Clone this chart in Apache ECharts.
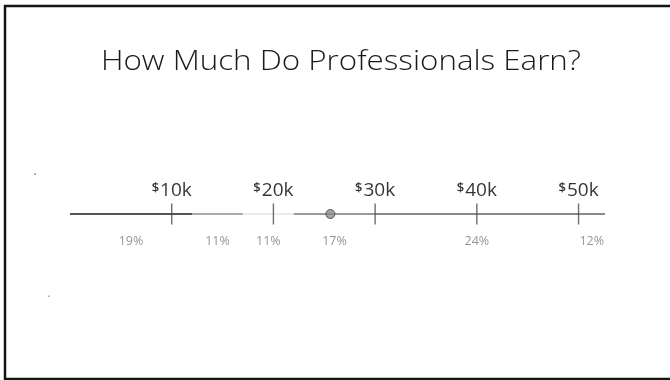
<!DOCTYPE html>
<html>
<head>
<meta charset="utf-8">
<script src="https://cdn.jsdelivr.net/npm/echarts@6/dist/echarts.min.js"></script>
<style>
  html, body { margin: 0; padding: 0; background: #fff; }
  #chart { width: 670px; height: 380px; }
</style>
</head>
<body>
<div id="chart"></div>
<script>
// Salary scale, in thousands of dollars
const tickValues = [10, 20, 30, 40, 50];
const tickLabels = ['10k', '20k', '30k', '40k', '50k'];

// Salary bands along the scale (start, end in $k) and share of professionals
const bandStarts = [0, 12, 17, 22, 30, 50];
const bandEnds = [12, 17, 22, 30, 50, 52.6];
const bandShares = ['19%', '11%', '11%', '17%', '24%', '12%'];
const bandColors = ['#555555', '#ababab', '#ececec', '#9a9a9a', '#8a8a8a', '#8a8a8a'];

// Highlighted salary point
const markerValue = [25.6];

const FONT = 'Open Sans';

const bandSeries = bandStarts.map((s, i) => ({
  type: 'line',
  data: [[s, 0], [bandEnds[i], 0]],
  symbol: 'none',
  silent: true,
  z: 2,
  lineStyle: { color: bandColors[i], width: 2 }
}));

const frameLine = (x1, y1, x2, y2) => ({
  type: 'line',
  shape: { x1, y1, x2, y2 },
  style: { stroke: '#141414', lineWidth: 2.5 },
  silent: true
});

const option = {
  animation: false,
  backgroundColor: '#fff',
  grid: { left: 70, width: 535, top: 164, height: 100 },
  xAxis: { type: 'value', min: 0, max: 52.6, show: false },
  yAxis: { type: 'value', min: -1, max: 1, show: false },
  graphic: [
    frameLine(4, 6, 670, 6),
    frameLine(5, 5, 5, 380),
    frameLine(4, 379, 670, 379),
    {
      // heading, widened slightly for a broad geometric look
      type: 'text',
      x: 341,
      y: 62,
      scaleX: 1.16,
      silent: true,
      style: {
        text: 'How Much Do Professionals Earn?',
        font: '300 27px "Open Sans"',
        fill: '#1a1a1a',
        align: 'center',
        verticalAlign: 'middle'
      }
    },
    { type: 'rect', shape: { x: 34.5, y: 173.5, width: 1.2, height: 1.2 }, style: { fill: '#333' }, silent: true },
    { type: 'rect', shape: { x: 48.5, y: 295.5, width: 1, height: 1.5 }, style: { fill: '#777' }, silent: true }
  ],
  series: [
    ...bandSeries,
    {
      // tick marks with dollar labels above
      type: 'scatter',
      data: tickValues.map((v, i) => ({ value: [v, 0], name: tickLabels[i] })),
      symbol: 'rect',
      symbolSize: [1.4, 21],
      itemStyle: { color: '#4a4a4a' },
      z: 4,
      label: {
        show: true,
        position: 'top',
        distance: 3,
        formatter: p => '{d|$}{n|' + p.name + '}',
        rich: {
          d: { fontFamily: FONT, fontSize: 13, fontWeight: 600, color: '#000', verticalAlign: 'top', padding: [0, 1, 5, 0] },
          n: { fontFamily: FONT, fontSize: 19, fontWeight: 500, color: '#000' }
        }
      }
    },
    {
      // share labels under each band
      type: 'scatter',
      data: bandStarts.map((s, i) => ({ value: [(s + bandEnds[i]) / 2, 0], name: bandShares[i] })),
      symbolSize: 0,
      label: {
        show: true,
        position: 'bottom',
        distance: 21,
        formatter: p => p.name,
        fontFamily: FONT,
        fontWeight: 400,
        fontSize: 12.5,
        color: '#7a7a7a'
      }
    },
    {
      type: 'scatter',
      data: markerValue.map(v => [v, 0]),
      symbol: 'circle',
      symbolSize: 9,
      z: 5,
      itemStyle: { color: '#8c8c8c', borderColor: '#3c3c3c', borderWidth: 1 }
    }
  ]
};

const chart = echarts.init(document.getElementById('chart'), null, { renderer: 'canvas' });
chart.setOption(option);
</script>
</body>
</html>
